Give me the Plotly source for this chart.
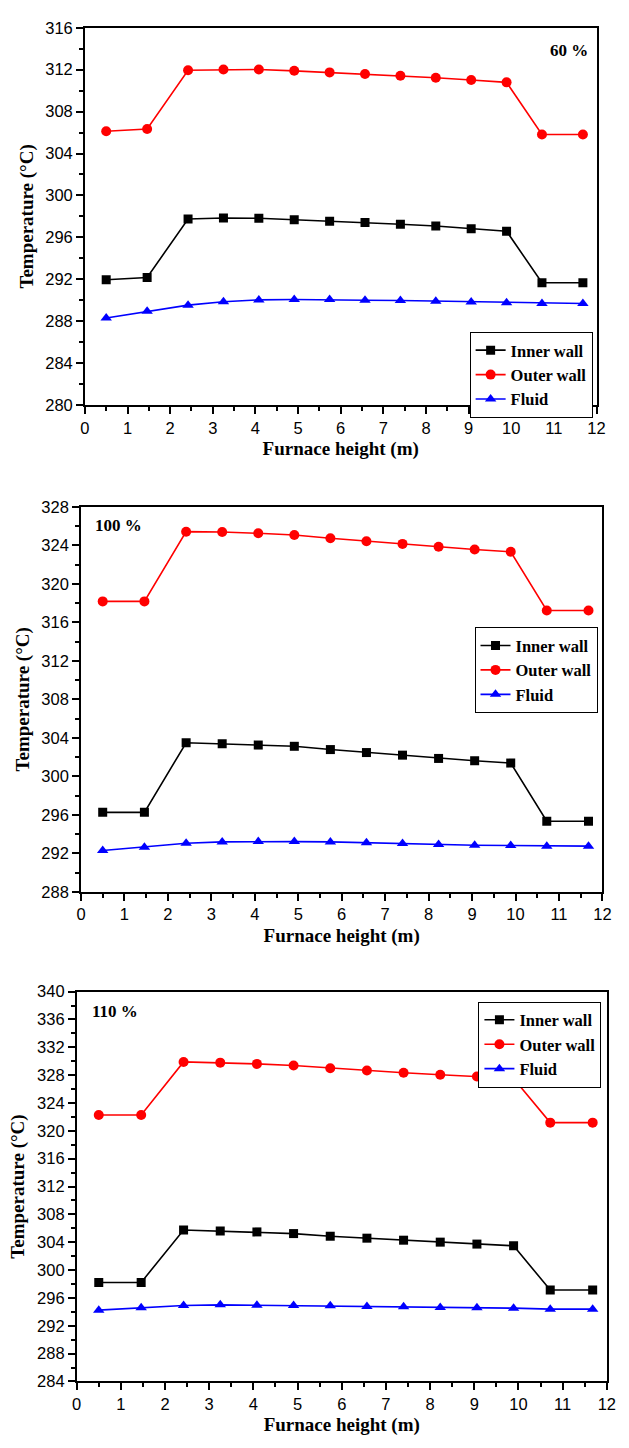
import plotly.graph_objects as go

W, H = 629, 1448

# ---------------- data ----------------
height_m = [0.5, 1.46, 2.42, 3.25, 4.08, 4.91, 5.74, 6.57, 7.40, 8.23, 9.06, 9.89, 10.72, 11.68]

inner_60 = [291.95, 292.17, 297.75, 297.85, 297.82, 297.69, 297.53, 297.41, 297.25, 297.09, 296.81, 296.59, 291.67, 291.67]
outer_60 = [306.12, 306.34, 311.95, 312.02, 312.02, 311.89, 311.74, 311.58, 311.42, 311.23, 311.01, 310.79, 305.81, 305.81]
fluid_60 = [288.31, 288.94, 289.53, 289.85, 290.03, 290.07, 290.07, 290.00, 289.97, 289.91, 289.82, 289.75, 289.69, 289.69]

inner_100 = [296.26, 296.26, 303.49, 303.39, 303.25, 303.12, 302.78, 302.47, 302.20, 301.86, 301.62, 301.38, 295.34, 295.34]
outer_100 = [318.17, 318.17, 325.41, 325.37, 325.24, 325.06, 324.72, 324.42, 324.14, 323.84, 323.56, 323.32, 317.22, 317.22]
fluid_100 = [292.30, 292.64, 293.05, 293.19, 293.22, 293.22, 293.19, 293.09, 293.02, 292.92, 292.85, 292.81, 292.75, 292.75]

inner_110 = [298.22, 298.22, 305.76, 305.62, 305.48, 305.24, 304.86, 304.58, 304.29, 304.01, 303.73, 303.49, 297.13, 297.13]
outer_110 = [322.27, 322.27, 329.90, 329.80, 329.62, 329.38, 329.00, 328.67, 328.34, 328.05, 327.81, 327.53, 321.18, 321.18]
fluid_110 = [294.24, 294.57, 294.91, 295.00, 294.95, 294.91, 294.86, 294.76, 294.72, 294.62, 294.57, 294.53, 294.38, 294.38]

series_names = ["Inner wall", "Outer wall", "Fluid"]
panel_labels = ["60 %", "100 %", "110 %"]
y_ranges = [[280, 316], [288, 328], [284, 340]]
x_range = [0, 12]
x_title = "Furnace height (m)"
y_title = "Temperature (\u00b0C)"

panels = [
    [inner_60, outer_60, fluid_60],
    [inner_100, outer_100, fluid_100],
    [inner_110, outer_110, fluid_110],
]

# ---------------- styles ----------------
colors = ["#000000", "#FF0000", "#0000FF"]
symbols = ["square", "circle", "triangle-up"]
msizes = [9, 10, 10]

# plot-area pixel boxes (left, right, top, bottom)
boxes = [
    (81.7, 605.0, 19.0, 401.0),
    (77.7, 611.0, 504.0, 894.0),
    (73.3, 615.5, 995.0, 1389.7),
]
# legend boxes (right, top)
leg_pos = [(601, 327), (606, 626), (610, 1005)]
# panel label positions (x center, y center)
lab_pos = [(577, 42), (116, 523), (112, 1015)]

SERIF = "Liberation Serif"
SANS = "Liberation Sans"

fig = go.Figure()
layout = dict(
    width=W, height=H,
    margin=dict(l=0, r=0, t=0, b=0),
    paper_bgcolor="white", plot_bgcolor="white",
    showlegend=True,
    annotations=[],
)

for i, (vals, box) in enumerate(zip(panels, boxes)):
    n = i + 1
    xa = "x" if n == 1 else f"x{n}"
    ya = "y" if n == 1 else f"y{n}"
    leg = "legend" if n == 1 else f"legend{n}"
    for name, v, c, s, ms in zip(series_names, vals, colors, symbols, msizes):
        fig.add_trace(go.Scatter(
            x=height_m, y=v, name=name, mode="lines+markers",
            line=dict(color=c, width=1.6),
            marker=dict(symbol=s, size=ms, color=c),
            xaxis=xa, yaxis=ya, legend=leg,
        ))
    l, r, t, b = box
    xdom = [l / W, r / W]
    ydom = [1 - b / H, 1 - t / H]
    axis_common = dict(
        showgrid=False, zeroline=False, showline=True, linecolor="black",
        linewidth=1.6, mirror=True, ticks="outside", ticklen=7, tickwidth=1.5,
        tickcolor="black", tickfont=dict(family=SANS, size=16.5, color="black"),
    )
    xk = "xaxis" if n == 1 else f"xaxis{n}"
    yk = "yaxis" if n == 1 else f"yaxis{n}"
    layout[xk] = dict(
        axis_common, domain=xdom, anchor=ya, range=x_range, dtick=1, tick0=0,
        minor=dict(dtick=0.5, ticks="outside", ticklen=4, tickwidth=1.5, tickcolor="black"),
        title=dict(text=x_title, font=dict(family=SERIF, size=19, color="black", weight="bold"),
                   standoff=6),
    )
    layout[yk] = dict(
        axis_common, domain=ydom, anchor=xa, range=y_ranges[i], dtick=4, tick0=0,
        minor=dict(dtick=2, ticks="outside", ticklen=4, tickwidth=1.5, tickcolor="black"),
        title=dict(text=y_title, font=dict(family=SERIF, size=19, color="black", weight="bold"),
                   standoff=7),
    )
    # top and right inside ticks (overlay axes)
    tk = f"xaxis{n + 3}"
    rk = f"yaxis{n + 3}"
    layout[tk] = dict(
        overlaying=xa, side="top", anchor=ya, range=x_range, dtick=1, tick0=0,
        showgrid=False, zeroline=False, showline=False, showticklabels=False,
        ticks="inside", ticklen=7, tickwidth=1.5, tickcolor="black",
        minor=dict(dtick=0.5, ticks="inside", ticklen=4, tickwidth=1.5, tickcolor="black"),
    )
    layout[rk] = dict(
        overlaying=ya, side="right", anchor=xa, range=y_ranges[i], dtick=4, tick0=0,
        showgrid=False, zeroline=False, showline=False, showticklabels=False,
        ticks="inside", ticklen=7, tickwidth=1.5, tickcolor="black",
        minor=dict(dtick=2, ticks="inside", ticklen=4, tickwidth=1.5, tickcolor="black"),
    )
    lx, ly = leg_pos[i]
    layout[leg] = dict(
        x=lx / W, y=1 - ly / H, xanchor="right", yanchor="top",
        bgcolor="white", bordercolor="black", borderwidth=1,
        font=dict(family=SERIF, size=16.5, color="black", weight="bold"),
        itemwidth=30, tracegroupgap=0,
    )
    ax, ay = lab_pos[i]
    layout["annotations"].append(dict(
        text=panel_labels[i], xref="paper", yref="paper", x=ax / W, y=1 - ay / H,
        xanchor="center", yanchor="middle", showarrow=False,
        font=dict(family=SERIF, size=17, color="black", weight="bold"),
    ))

fig.update_layout(**layout)
fig.write_html("out.html")
